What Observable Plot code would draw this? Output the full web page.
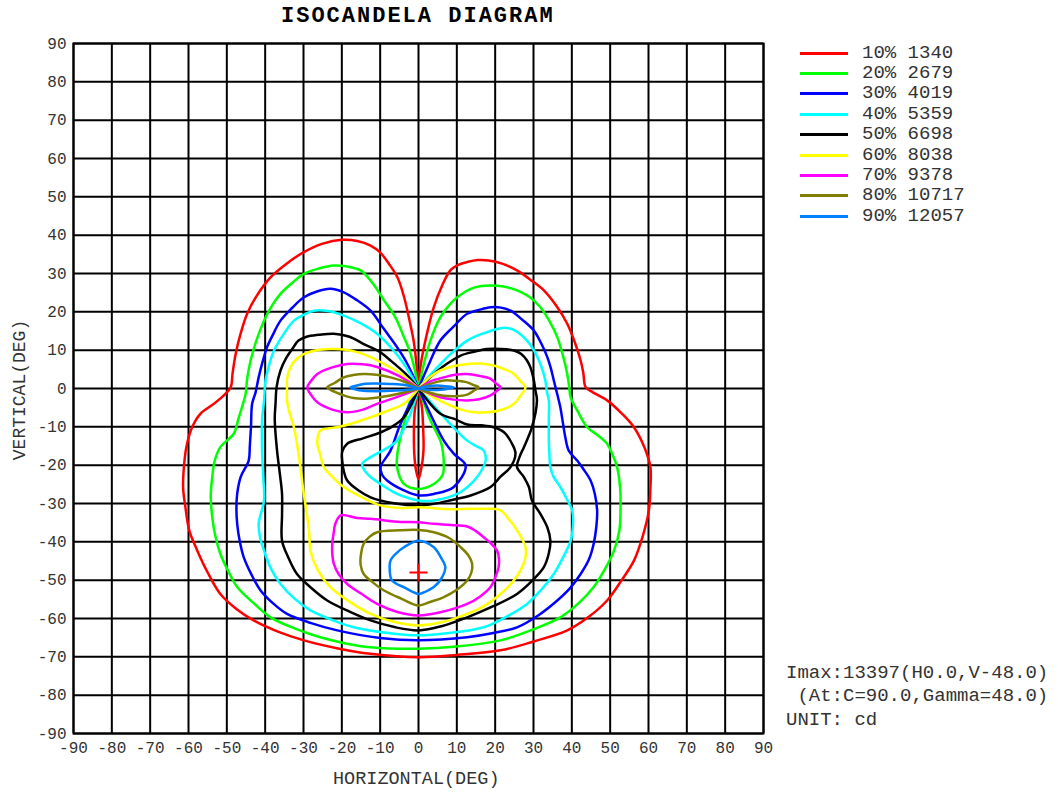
<!DOCTYPE html>
<html>
<head>
<meta charset="utf-8">
<script src="https://cdn.jsdelivr.net/npm/d3@7"></script>
<script src="https://cdn.jsdelivr.net/npm/@observablehq/plot@0.6"></script>
<style>
  html, body { margin: 0; padding: 0; background: #fff; }
  #wrap { position: relative; width: 1058px; height: 793px; overflow: hidden; font-family: "Liberation Mono", "DejaVu Sans Mono", monospace; }
  #wrap svg { position: absolute; left: 0; top: 0; }
  .ov { position: absolute; white-space: pre; color: #333; line-height: 1; }
  .title { font-weight: bold; color: #000; }
  .sw { position: absolute; height: 3px; }
</style>
</head>
<body>
<div id="wrap"></div>
<script>
// ---------- DATA ----------
const xTicks = [-90,-80,-70,-60,-50,-40,-30,-20,-10,0,10,20,30,40,50,60,70,80,90];
const yTicks = [-90,-80,-70,-60,-50,-40,-30,-20,-10,0,10,20,30,40,50,60,70,80,90];

const levelLabels = ["10% 1340","20% 2679","30% 4019","40% 5359","50% 6698","60% 8038","70% 9378","80% 10717","90% 12057"];

// contour paths that start and end at the centre (H, V in degrees)
const c10 = [
  [[0,0],[-0.4,5],[-1.2,12],[-2.4,18],[-3.8,24],[-5.5,29],[-7.7,32.5],[-10,35.5],[-12.5,37.3],[-16,38.5],[-20,38.8],[-25,37.8],[-29.9,35.6],[-34.5,32.5],[-38.6,29],[-42,24.5],[-44.7,19.5],[-46.5,14],[-47.7,9],[-48.5,4],[-49,0.3],[-51,-2],[-53.4,-4],[-56.9,-6.6],[-59,-10],[-60.5,-15],[-61.2,-20.5],[-61.4,-26],[-60.8,-31],[-59.8,-37],[-57.7,-42.3],[-55,-48],[-51.7,-53.6],[-47.5,-57.5],[-43,-60.5],[-36.5,-63.5],[-29.9,-65.7],[-21,-67.8],[-12.5,-69.2],[0,-70.1],[10,-69.5],[21.4,-68.3],[30,-66],[38.8,-63.1],[44.5,-59.5],[49.2,-55.3],[53,-50],[56.2,-44.9],[58.5,-38.5],[60.1,-31.8],[60.5,-26],[60.5,-20.5],[59,-15.5],[56.2,-10.1],[53,-6.5],[49.2,-3.1],[45.5,-1],[43.6,0.35],[43,4],[42.3,7.3],[40.8,12],[38.8,16.9],[36,21.5],[32.7,25.6],[29,28.5],[25.7,30.8],[22,32.5],[18.3,33.4],[15.5,33.5],[12.7,33],[10.2,32.2],[8.3,30.8],[6,26.5],[4,21.2],[1.8,12.5],[0.5,5.6],[0,0]],
  [[0,0],[-1,-6],[-1.2,-11.8],[-1.1,-17],[-0.7,-21],[0,-23.6],[0.7,-21],[1.3,-16.2],[1.2,-10.1],[0.9,-5],[0,0]]
];
const c20 = [
  [[0,0],[-1,5],[-2.2,9.5],[-3.8,13.4],[-6,18.5],[-9,23],[-12,27.5],[-15.1,30.8],[-18.5,31.8],[-22.1,32.1],[-26,31.3],[-29.9,29.9],[-33,27.5],[-36,24.7],[-38.3,21.5],[-40.3,17.7],[-42.3,12.5],[-43.8,7.3],[-44.7,2.5],[-45.1,-1.4],[-46,-4.7],[-47,-8],[-48.2,-11.8],[-51.7,-15.3],[-53.2,-19],[-53.8,-23.1],[-54.2,-28],[-53.8,-33.6],[-53,-38.5],[-51.7,-43.1],[-49.7,-47.5],[-47.3,-51.8],[-43,-56],[-38.6,-59.7],[-32,-62.7],[-25.6,-64.9],[-19,-66.5],[-12.5,-67.5],[0,-67.9],[10,-67.3],[21.4,-65.7],[30,-62.8],[37,-59.7],[42,-55.8],[45.7,-51.8],[48.7,-47],[51,-42.3],[52.4,-37],[52.7,-31.8],[52.6,-26],[51.8,-20.5],[50.5,-17],[49.2,-14.4],[46.5,-12],[44,-10.1],[41.4,-5.7],[39.7,-2.3],[39.3,0.5],[38.8,3.8],[37.7,8.5],[36.2,13.4],[34.2,17.5],[31.8,21.2],[28.8,24],[25.7,25.6],[22.2,26.6],[18.8,26.9],[16,26.7],[13.6,26],[10.8,24.3],[8.3,22.1],[5.7,18.6],[3.1,12.5],[1.4,6.4],[0,0]],
  [[0,0],[-2.1,-3.1],[-3.5,-8],[-4.7,-12.7],[-5.5,-17],[-5.6,-20.5],[-3.8,-24.9],[0,-26.2],[4,-24.9],[6.3,-22.5],[6.6,-20.5],[6.3,-16],[5.7,-13.6],[3.1,-8.3],[1.5,-4],[0,0]]
];
const c30 = [
  [[0,0],[-1.5,3.5],[-3.5,7.5],[-5.6,10.8],[-9,15.5],[-12.5,20.3],[-16,23],[-19.5,25.1],[-23,26],[-26.5,25.3],[-29.9,23.8],[-33,21],[-36,17.7],[-38,14],[-39.5,10.8],[-40.8,6.5],[-41.7,2.9],[-42.5,-1],[-43.4,-4],[-43.7,-10],[-44,-15],[-44.3,-18.8],[-46.4,-23.1],[-47.3,-27.5],[-47.5,-31.5],[-47.3,-35.3],[-46.6,-40],[-45.6,-44],[-43.6,-48.5],[-41.2,-52.7],[-38,-56],[-34.3,-58.8],[-28,-61.2],[-21.2,-63.1],[-10,-65.1],[0,-65.7],[12.7,-64.9],[19.5,-63.8],[25.7,-62.3],[31.5,-59],[36.2,-55.3],[39.6,-52],[42.3,-48.4],[44.5,-44.5],[45.7,-40.5],[46.4,-36],[46.6,-31.8],[46,-27.5],[44.9,-24],[43,-21],[41.4,-18.8],[39.2,-16.2],[38.3,-12.7],[37.6,-8.5],[37,-4.9],[36.2,-1.5],[35.3,2.1],[34.6,5],[33.6,8.2],[32,11.8],[30.1,15.1],[27,18],[24,20.3],[21.5,21.1],[18.8,21.2],[15.8,20.5],[12.7,19.5],[9,16],[5.7,12.5],[3,7],[0,0]],
  [[0,0],[-2.5,-4.5],[-5,-10],[-7.3,-16.2],[-9.9,-20.5],[-9.5,-22.5],[-8.2,-24],[-3.8,-26.6],[0,-27.9],[4,-27.5],[9.2,-25.7],[12.3,-20.1],[9.2,-17],[6.6,-13.6],[3.5,-7.5],[0,0]]
];
const c40 = [
  [[0,0],[-1.8,3.2],[-3.8,6.4],[-7,10.5],[-10.8,14.3],[-15,17],[-19.5,19],[-23.5,20.2],[-27.3,20.3],[-30,19.2],[-32.5,17.7],[-35.3,14],[-37.7,9.9],[-39,6],[-39.9,2.1],[-40.3,-3.1],[-40.8,-8.3],[-40.8,-16.2],[-40.5,-23],[-40.3,-29.2],[-41.7,-35.3],[-41.3,-39],[-40.3,-42.3],[-38.5,-47],[-36,-51],[-32.5,-54.7],[-28.2,-57.9],[-22.5,-60.4],[-16.9,-62.3],[-8,-63.8],[0,-64.4],[8,-63.8],[17,-62.3],[23,-59.5],[28.3,-56.2],[32,-52.5],[35.3,-48.4],[38,-43.5],[39.7,-39.7],[40.3,-35.5],[40.1,-31.8],[38.5,-28.5],[37,-25.7],[35.2,-23],[34.4,-20.5],[34.1,-16],[34,-13.6],[34,-8],[34,-3.1],[33.6,-1.4],[33,2.5],[31.8,6.4],[30.2,9.8],[28.3,12.5],[25.7,14.8],[23.1,15.8],[20.5,15.5],[17.9,14.7],[15.3,13.8],[12.7,12.5],[9.5,10],[6.6,7.3],[3.3,3.8],[0,0]],
  [[0,0],[-2.1,-6.6],[-5.6,-13.6],[-9,-16],[-12.5,-17.9],[-14.7,-19.7],[-14,-21.5],[-12.5,-23.1],[-9,-25.5],[-5.6,-27.5],[0,-29.2],[4,-29.2],[10.1,-27.5],[13,-25.5],[15.3,-23.1],[17.5,-18.8],[17,-16.2],[15,-15],[12.7,-13.6],[9,-10],[4,-4.5],[0,0]]
];
const c50 = [
  [[0,0],[-3,3.5],[-7.3,7.3],[-10.5,9.8],[-14.3,11.6],[-18,13.5],[-22.1,14.3],[-26,14],[-29.2,13.5],[-31.3,12.5],[-32.8,10.5],[-34.5,8],[-36,4.7],[-37,0.5],[-37.3,-4],[-37.5,-8],[-36.9,-16.2],[-36.2,-22],[-35.6,-27.5],[-35.6,-33],[-35.6,-39.7],[-34,-44],[-31.7,-48.4],[-28,-52],[-23.8,-55.3],[-18,-58.2],[-12.5,-60.5],[-6,-62.3],[0,-63.1],[6,-62],[12.7,-59.7],[19.5,-56.8],[25.7,-53.6],[29.8,-50],[32.7,-46.6],[34,-43],[34.4,-39.7],[33.6,-36.2],[31.8,-32.7],[29.6,-29.2],[28.8,-25.7],[27.5,-23.1],[25.7,-20.5],[26.5,-17.5],[27.5,-15.3],[29.6,-10.1],[30.9,-3.1],[30.5,-0.5],[30.1,2.1],[29.2,5.5],[28.3,7.3],[26.8,9],[24.9,9.9],[21.5,10.3],[17.9,10.3],[14.5,9.6],[11,8.6],[7.5,6.5],[4,3.8],[0,0]],
  [[0,0],[-3.8,-7.5],[-7,-10],[-10.8,-11.8],[-14.5,-13],[-18.6,-14.4],[-19.9,-16.5],[-19.9,-18.8],[-19.5,-21.5],[-18.6,-24],[-15.8,-26.5],[-12.5,-28.4],[-6,-30],[0,-30.5],[4,-30.1],[9,-29],[13.6,-27.9],[18.8,-25.7],[21.4,-23],[24,-20.5],[25.3,-17],[24.4,-14.4],[22.3,-11.4],[19.6,-10.1],[16.5,-9.6],[12.7,-9.4],[9.5,-8],[5.7,-6.6],[0,0]]
];
const c60 = [
  [[0,0],[-4.5,3.8],[-9,6.4],[-12.5,8.2],[-16,9.5],[-19.5,10.2],[-23,10.3],[-26.5,10],[-29.9,9],[-32,7.5],[-33.4,5.6],[-34.3,2.5],[-34.3,0.3],[-34.3,-3.1],[-33.6,-6.5],[-32.5,-10.1],[-31.6,-15],[-30.8,-20.5],[-30,-27],[-29,-33.6],[-28.5,-38],[-28.2,-42.3],[-26.2,-47.5],[-23,-51.8],[-18,-55.6],[-12.5,-58.8],[-6,-61],[0,-61.8],[6,-61],[12.7,-58.8],[17.5,-56.5],[21.4,-53.6],[24.5,-50.5],[26.6,-47.5],[27.9,-44],[27.9,-41.4],[25.7,-37],[23.5,-34],[21.4,-31.8],[19.5,-31.4],[13.6,-31.4],[8.3,-31.5],[0,-31],[-4.7,-31.2],[-9.9,-30.5],[-14.5,-28.5],[-19.5,-25.7],[-22.5,-23],[-24.7,-20.5],[-25.7,-17],[-26.4,-14.4],[-25.6,-10.9],[-23.5,-10.4],[-21.2,-10.1],[-17,-9],[-12.5,-7.5],[-8,-5.8],[-3.8,-4],[0,0]],
  [[0,0],[3,3],[5.7,4.7],[9,5.8],[12.7,6.4],[16,6.5],[19.6,6],[22.5,5],[24.9,3.8],[26.5,2],[27.9,0.3],[26.5,-2],[24.9,-4],[21.5,-5.6],[17.9,-6.2],[14.8,-6.2],[11.8,-5.7],[8,-4.3],[4,-2.3],[0,0]]
];
const c70 = [
  [[0,0],[-5,3.2],[-10.8,5.6],[-14.5,6.3],[-18.6,6.4],[-22.5,5.5],[-26.4,3.8],[-28,2],[-29,0.3],[-28,-1.7],[-26.4,-3.6],[-22.5,-5.5],[-18.6,-6.2],[-14.5,-5.5],[-10.8,-4],[-5,-2],[0,0]],
  [[0,0],[3,1.8],[6.6,2.9],[9.5,3.6],[12.7,3.8],[15.8,3.3],[18.8,2.5],[20.2,1.3],[21.4,0.3],[20.2,-0.8],[18.8,-1.8],[15.8,-2.8],[12.7,-3.1],[9.2,-2.9],[5.7,-2.3],[3,-1.3],[0,0]]
];
const c80 = [
  [[0,0],[-3.5,1.7],[-7.3,2.9],[-11,3.6],[-14.3,3.8],[-17,3.5],[-19.5,2.9],[-21.8,1.5],[-23.8,0.3],[-21.8,-0.9],[-19.5,-1.8],[-17,-2.5],[-14.3,-2.7],[-11,-2.4],[-7.3,-1.8],[-3.5,-1],[0,0]],
  [[0,0],[3,1.2],[6.6,2.1],[9.8,2],[12.7,1.6],[14.4,0.9],[15.7,0.3],[14.4,-0.6],[12.7,-1.6],[9.8,-2],[6.6,-1.9],[3,-1.1],[0,0]]
];
const c90 = [
  [[0,0],[-3.5,0.9],[-7.3,1.2],[-11,1.3],[-14.3,1.2],[-16.3,0.7],[-17.7,0.3],[-16.3,-0.3],[-14.3,-0.6],[-11,-0.7],[-7.3,-0.6],[-3.5,-0.4],[0,0]],
  [[0,0],[2.5,0.6],[4.9,0.8],[7,0.6],[9.2,0.3],[7,-0.2],[4.9,-0.4],[2.5,-0.3],[0,0]]
];
// closed loops around the maximum (no repeated first point)
const l70 = [[-20.3,-33.1],[-16,-33.8],[-12.5,-34],[-4.7,-34.8],[0,-34.9],[4,-35.3],[8.5,-35.6],[12.7,-36],[15,-37.2],[17,-38.8],[19,-40.5],[20.5,-42.3],[21,-44.5],[20.9,-46.6],[20,-49.3],[18.8,-51.8],[16,-54.3],[12.7,-56.2],[6,-58.3],[0,-59.2],[-5.5,-58.3],[-10.8,-56.2],[-15,-53.5],[-18.6,-51],[-20.8,-48.5],[-22.1,-45.7],[-22.5,-43],[-22.5,-40.5],[-22.1,-37.5],[-21.7,-35.3]];
const l80 = [[0,-36.9],[4,-37.5],[8,-39],[11,-41.4],[13,-43.5],[14,-45.7],[13.8,-48],[12.7,-50.1],[10,-52.5],[6.6,-54.4],[3,-55.7],[0,-56.6],[-4.5,-54.8],[-9,-52.7],[-12,-50.5],[-14.3,-48.4],[-15.1,-46],[-15.1,-44],[-14.3,-40.5],[-12.8,-38.7],[-10.8,-37.5],[-5,-37]];
const l90 = [[0,-39.7],[4,-41.4],[5.8,-44],[7,-46.6],[6,-49.5],[4,-51.8],[2,-52.9],[0,-53.6],[-3.5,-52],[-6.9,-50.1],[-7.5,-47.5],[-7.3,-44.9],[-5.8,-43],[-3.8,-41.4]];

const imax = [{h: 0, v: -48}];
const noteLines = ["Imax:13397(H0.0,V-48.0)", " (At:C=90.0,Gamma=48.0)", "UNIT: cd"];

// ---------- BUILD ----------
const colors = ["#ff0000","#00ff00","#0000ff","#00ffff","#000000","#ffff00","#ff00ff","#808000","#0080ff"];
const openSets = [c10,c20,c30,c40,c50,c60,c70,c80,c90];
const rows = [];
openSets.forEach((set, i) => set.forEach((path, j) => path.forEach(([h, v]) =>
  rows.push({level: levelLabels[i], key: i + "-" + j, h, v}))));
const loopRows = [];
[[6, l70],[7, l80],[8, l90]].forEach(([i, path]) => path.forEach(([h, v]) =>
  loopRows.push({level: levelLabels[i], key: "L" + i, h, v})));

const cross = {
  draw(context, size) {
    const r = Math.sqrt(size / Math.PI);
    context.moveTo(-r, 0); context.lineTo(r, 0);
    context.moveTo(0, -r); context.lineTo(0, r);
  }
};
const fmt = d => String(d);

const chart = Plot.plot({
  width: 1058, height: 793,
  marginLeft: 73, marginRight: 295, marginTop: 43, marginBottom: 60,
  style: {fontFamily: "'Liberation Mono', monospace", fontSize: "16px", color: "#333", background: "transparent"},
  x: {domain: [-90, 90]},
  y: {domain: [-90, 90]},
  color: {domain: levelLabels, range: colors},
  marks: [
    Plot.gridX(xTicks, {stroke: "#000", strokeOpacity: 1, strokeWidth: 2}),
    Plot.gridY(yTicks, {stroke: "#000", strokeOpacity: 1, strokeWidth: 2}),
    Plot.frame({stroke: "#000", strokeWidth: 2}),
    Plot.axisX(xTicks, {tickSize: 0, tickPadding: 8, tickFormat: fmt, label: null}),
    Plot.axisY(yTicks, {tickSize: 0, tickPadding: 7, tickFormat: fmt, label: null}),
    Plot.line(rows, {x: "h", y: "v", z: "key", stroke: "level", strokeWidth: 2.5, curve: "catmull-rom"}),
    Plot.line(loopRows, {x: "h", y: "v", z: "key", stroke: "level", strokeWidth: 2.5, curve: "catmull-rom-closed"}),
    Plot.dot(imax, {x: "h", y: "v", symbol: cross, r: 9, stroke: "red", fill: "none", strokeWidth: 2})
  ]
});

const wrap = document.getElementById("wrap");
wrap.appendChild(chart);

function addText(txt, left, centerY, size, cls, extra) {
  const d = document.createElement("div");
  d.className = "ov " + (cls || "");
  d.textContent = txt;
  d.style.fontSize = size + "px";
  d.style.left = left + "px";
  d.style.top = (centerY - size / 2) + "px";
  d.style.height = size + "px";
  if (extra) Object.assign(d.style, extra);
  wrap.appendChild(d);
  return d;
}
// title
addText("ISOCANDELA DIAGRAM", 281, 17, 22, "title", {letterSpacing: "2px"});
// axis titles
addText("HORIZONTAL(DEG)", 333, 780, 18.5, "");
addText("VERTICAL(DEG)", 20, 390, 18, "", {transformOrigin: "0 50%", transform: "rotate(-90deg) translate(-50%,0)"});
// legend
levelLabels.forEach((lab, i) => {
  const cy = 53 + i * 20.4;
  const s = document.createElement("div");
  s.className = "sw";
  s.style.left = "800px"; s.style.width = "48px";
  s.style.top = (cy - 1.5) + "px";
  s.style.background = colors[i];
  wrap.appendChild(s);
  addText(lab, 862, cy, 19, "");
});
// note
noteLines.forEach((t, i) => addText(t, 786, 673 + i * 23.5, 19, ""));
</script>
</body>
</html>
